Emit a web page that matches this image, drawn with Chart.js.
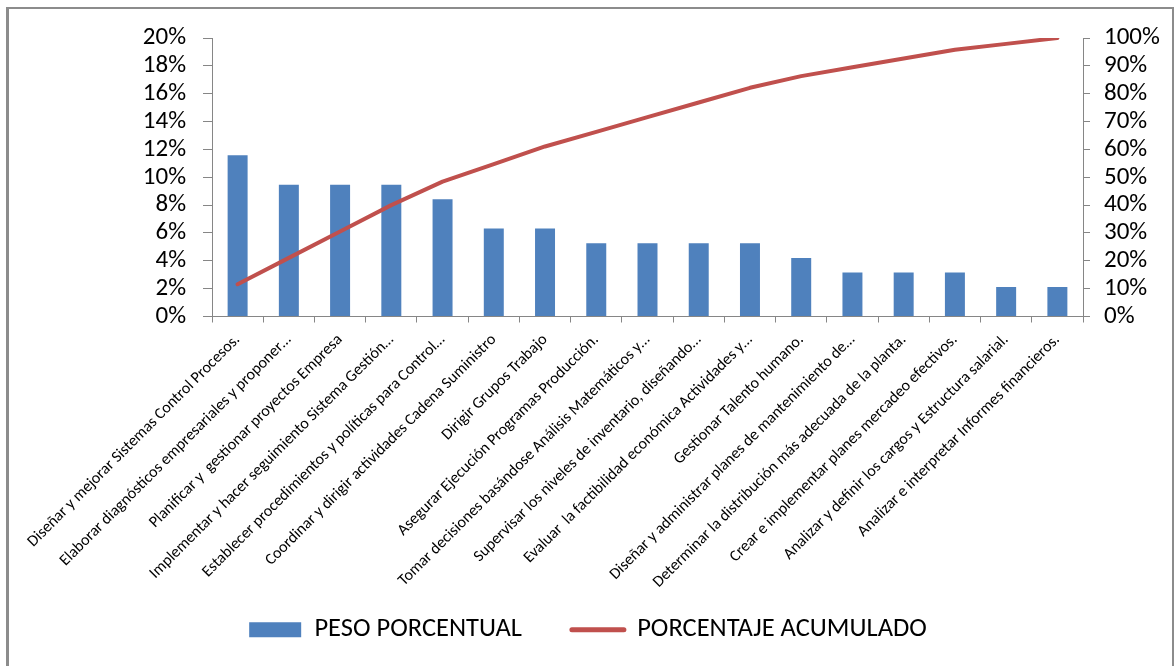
<!DOCTYPE html>
<html>
<head>
<meta charset="utf-8">
<script src="https://cdn.jsdelivr.net/npm/chart.js@4"></script>
<style>
  html, body { margin: 0; padding: 0; background: #fff; }
  #wrap { position: relative; width: 1176px; height: 666px; overflow: hidden; }
  #frame {
    position: absolute; left: 6px; top: 7px; width: 1168px; height: 700px;
    border: 2px solid #8c8c8c; border-left-width: 3px; box-sizing: border-box;
    pointer-events: none;
  }
  canvas { position: absolute; left: 0; top: 0; }
</style>
</head>
<body>
<div id="wrap">
  <canvas id="pareto" width="1176" height="666"></canvas>
  <div id="frame"></div>
</div>
<script>
// Competencias ordenadas de mayor a menor peso
const categorias = [
  'Diseñar y mejorar Sistemas Control Procesos.',
  'Elaborar diagnósticos empresariales y proponer…',
  'Planificar y  gestionar proyectos Empresa',
  'Implementar y hacer seguimiento Sistema Gestión…',
  'Establecer procedimientos y políticas para Control…',
  'Coordinar y dirigir actividades Cadena Suministro',
  'Dirigir Grupos Trabajo',
  'Asegurar Ejecución Programas Producción.',
  'Tomar decisiones basándose Análisis Matemáticos y…',
  'Supervisar los niveles de inventario, diseñando…',
  'Evaluar  la factibilidad económica Actividades y…',
  'Gestionar Talento humano.',
  'Diseñar y administrar planes de mantenimiento de…',
  'Determinar la distribución más adecuada de la planta.',
  'Crear e implementar planes mercadeo efectivos.',
  'Analizar y definir los cargos y Estructura salarial.',
  'Analizar e interpretar Informes financieros.'
];

// Peso porcentual de cada competencia (%)
const pesoPorcentual = [11.58, 9.47, 9.47, 9.47, 8.42, 6.32, 6.32, 5.26, 5.26, 5.26, 5.26, 4.21, 3.16, 3.16, 3.16, 2.11, 2.11];

// Porcentaje acumulado (%)
const porcentajeAcumulado = [11.58, 21.05, 30.53, 40.00, 48.42, 54.74, 61.05, 66.32, 71.58, 76.84, 82.11, 86.32, 89.47, 92.63, 95.79, 97.89, 100.00];

// Rangos de los ejes (%)
const ejeIzquierdo = { min: 0, max: 20, paso: 2 };
const ejeDerecho = { min: 0, max: 100, paso: 10 };

const FUENTE = 'Carlito, Lato, "Open Sans", sans-serif';
const GRIS_EJE = '#868686';
const AZUL = '#4F81BD';
const ROJO = '#C0504D';

new Chart(document.getElementById('pareto'), {
  data: {
    labels: categorias,
    datasets: [
      {
        type: 'line',
        label: 'PORCENTAJE ACUMULADO',
        data: porcentajeAcumulado,
        yAxisID: 'yAcum',
        borderColor: ROJO,
        backgroundColor: ROJO,
        borderWidth: 4,
        borderCapStyle: 'round',
        borderJoinStyle: 'round',
        pointRadius: 0,
        pointHoverRadius: 0,
        tension: 0,
        order: 0
      },
      {
        type: 'bar',
        label: 'PESO PORCENTUAL',
        data: pesoPorcentual,
        yAxisID: 'yPeso',
        backgroundColor: AZUL,
        borderWidth: 0,
        categoryPercentage: 1,
        barPercentage: 0.39,
        order: 1
      }
    ]
  },
  options: {
    responsive: false,
    animation: false,
    layout: { padding: { top: 38, left: 0, right: 0, bottom: 13 } },
    plugins: {
      tooltip: { enabled: false },
      legend: {
        position: 'bottom',
        reverse: true,
        labels: {
          usePointStyle: true,
          pointStyleWidth: 52,
          boxHeight: 15,
          padding: 50,
          color: '#000',
          font: { family: FUENTE, size: 26.5 },
          generateLabels(chart) {
            return chart.data.datasets.map((ds, i) => ({
              text: ds.label,
              datasetIndex: i,
              fillStyle: ds.type === 'bar' ? AZUL : ROJO,
              strokeStyle: ds.type === 'bar' ? AZUL : ROJO,
              lineWidth: ds.type === 'bar' ? 0 : 5,
              lineCap: 'round',
              pointStyle: ds.type === 'bar' ? 'rect' : 'line',
              hidden: false,
              fontColor: '#000'
            }));
          }
        }
      }
    },
    scales: {
      x: {
        offset: true,
        grid: { offset: true, drawOnChartArea: false, tickLength: 6, color: GRIS_EJE },
        border: { color: GRIS_EJE },
        ticks: {
          autoSkip: false, maxRotation: 45, minRotation: 45, padding: 8,
          color: '#000', font: { family: FUENTE, size: 16 }
        },
        afterFit(scale) {
          scale.height = 250;
          // long rotated labels run past the axis box; draw them unclipped
          scale._computeLabelArea = () => undefined;
        }
      },
      yPeso: {
        position: 'left',
        min: ejeIzquierdo.min, max: ejeIzquierdo.max,
        grid: { drawOnChartArea: false, tickLength: 9, color: GRIS_EJE },
        border: { color: GRIS_EJE },
        ticks: {
          stepSize: ejeIzquierdo.paso, autoSkip: false, padding: 17, color: '#000',
          font: { family: FUENTE, size: 25 },
          callback: v => v + '%'
        },
        afterFit(scale) { scale.width = 212; }
      },
      yAcum: {
        position: 'right',
        min: ejeDerecho.min, max: ejeDerecho.max,
        grid: { drawOnChartArea: false, tickLength: 7, color: GRIS_EJE },
        border: { color: GRIS_EJE },
        ticks: {
          stepSize: ejeDerecho.paso, autoSkip: false, padding: 14, color: '#000',
          font: { family: FUENTE, size: 25 },
          callback: v => v + '%'
        },
        afterFit(scale) { scale.width = 93; }
      }
    }
  }
});
</script>
</body>
</html>
